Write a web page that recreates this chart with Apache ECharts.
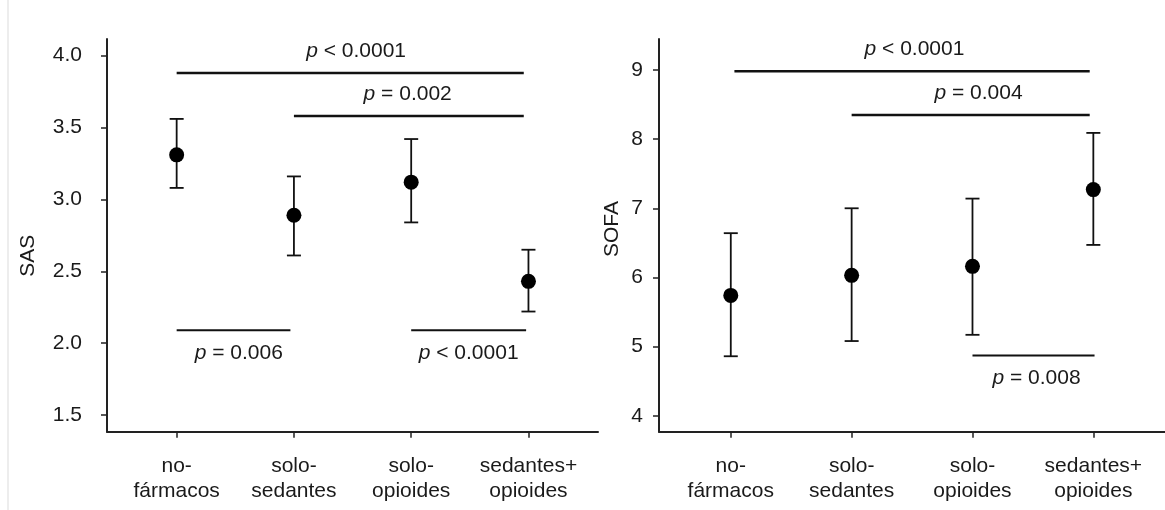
<!DOCTYPE html>
<html>
<head>
<meta charset="utf-8">
<script src="https://cdn.jsdelivr.net/npm/echarts@6/dist/echarts.min.js"></script>
<style>
html,body{margin:0;padding:0;background:#fff;}
#chart{width:1165px;height:510px;}
</style>
</head>
<body>
<div id="chart"></div>
<script>
// ---- data ----
const categories = ['no-\nfármacos', 'solo-\nsedantes', 'solo-\nopioides', 'sedantes+\nopioides'];
const categoryIndex = [0, 1, 2, 3];

const sasMean = [3.31, 2.89, 3.12, 2.43];
const sasLow  = [3.08, 2.61, 2.84, 2.22];
const sasHigh = [3.56, 3.16, 3.42, 2.65];
const sasTicks = [1.5, 2.0, 2.5, 3.0, 3.5, 4.0];

const sofaMean = [5.74, 6.03, 6.16, 7.27];
const sofaLow  = [4.86, 5.08, 5.17, 6.47];
const sofaHigh = [6.64, 7.00, 7.14, 8.09];
const sofaTicks = [4, 5, 6, 7, 8, 9];

// comparisons: [from, to, level, labelAt, side, label]
const sasComparisons = [
  [0.00, 2.96, 3.88, 1.53, 'above', 'p < 0.0001'],
  [1.00, 2.96, 3.58, 1.97, 'above', 'p = 0.002'],
  [0.00, 0.97, 2.09, 0.53, 'below', 'p = 0.006'],
  [2.00, 2.98, 2.09, 2.49, 'below', 'p < 0.0001']
];
const sofaComparisons = [
  [0.03, 2.97, 8.98, 1.52, 'above', 'p < 0.0001'],
  [1.00, 2.97, 8.35, 2.05, 'above', 'p = 0.004'],
  [2.00, 3.01, 4.87, 2.53, 'below', 'p = 0.008']
];

// ---- styles ----
const FONT = 'Liberation Sans, Arial, sans-serif';
const TXT = '#1a1a1a';
const INK = '#111';
const AX = '#222';

function xAxisCfg(gridIndex) {
  return {
    type: 'value', gridIndex: gridIndex, min: -0.594, max: 3.593,
    axisLine: { show: true, onZero: false, lineStyle: { color: AX, width: 2 } },
    axisTick: { show: true, customValues: categoryIndex, length: 6, lineStyle: { color: AX, width: 1.5 } },
    axisLabel: {
      customValues: categoryIndex, margin: 22,
      formatter: v => categories[Math.round(v)] || '',
      fontFamily: FONT, fontSize: 21, lineHeight: 25, color: TXT
    },
    splitLine: { show: false }
  };
}
function yAxisCfg(gridIndex, min, max, ticks, margin, digits) {
  return {
    type: 'value', gridIndex: gridIndex, min: min, max: max,
    axisLine: { show: true, onZero: false, lineStyle: { color: AX, width: 2 } },
    axisTick: { show: true, customValues: ticks, length: 6, lineStyle: { color: AX, width: 1.5 } },
    axisLabel: {
      customValues: ticks, margin: margin,
      formatter: v => Number(v).toFixed(digits),
      fontFamily: FONT, fontSize: 21, color: TXT
    },
    splitLine: { show: false }
  };
}

function errorSeries(idx, low, high) {
  return {
    type: 'custom', xAxisIndex: idx, yAxisIndex: idx, z: 3,
    data: categoryIndex.map((c, i) => [c, low[i], high[i]]),
    encode: { x: 0, y: [1, 2] },
    renderItem: function (params, api) {
      const x = api.value(0);
      const lo = api.coord([x, api.value(1)]);
      const hi = api.coord([x, api.value(2)]);
      const hw = 7;
      const st = { stroke: INK, lineWidth: 1.8 };
      return {
        type: 'group',
        children: [
          { type: 'line', shape: { x1: lo[0], y1: lo[1], x2: hi[0], y2: hi[1] }, style: st },
          { type: 'line', shape: { x1: lo[0] - hw, y1: lo[1], x2: lo[0] + hw, y2: lo[1] }, style: st },
          { type: 'line', shape: { x1: hi[0] - hw, y1: hi[1], x2: hi[0] + hw, y2: hi[1] }, style: st }
        ]
      };
    }
  };
}
function meanSeries(idx, mean) {
  return {
    type: 'scatter', xAxisIndex: idx, yAxisIndex: idx, z: 4,
    symbol: 'circle', symbolSize: 15,
    itemStyle: { color: '#000', opacity: 1 },
    emphasis: { disabled: true },
    data: categoryIndex.map((c, i) => [c, mean[i]])
  };
}
function compSeries(idx, comps) {
  return {
    type: 'custom', xAxisIndex: idx, yAxisIndex: idx, z: 2, clip: false,
    data: comps.map(c => [c[0], c[1], c[2], c[3]]),
    encode: { x: [0, 1, 3], y: 2 },
    renderItem: function (params, api) {
      const c = comps[params.dataIndex];
      const a = api.coord([c[0], c[2]]);
      const b = api.coord([c[1], c[2]]);
      const l = api.coord([c[3], c[2]]);
      const above = c[4] === 'above';
      const lw = above ? 2.5 : 2;
      const ty = above ? a[1] - 22 : a[1] + 23;
      return {
        type: 'group',
        children: [
          { type: 'line', shape: { x1: a[0], y1: a[1], x2: b[0], y2: b[1] },
            style: { stroke: INK, lineWidth: lw } },
          { type: 'text', x: l[0], y: ty,
            style: {
              text: '{i|p}' + c[5].slice(1),
              align: 'center', verticalAlign: 'middle',
              fontFamily: FONT, fontSize: 21, fill: TXT,
              rich: { i: { fontStyle: 'italic', fontFamily: FONT, fontSize: 21, fill: TXT } }
            } }
        ]
      };
    }
  };
}

const chart = echarts.init(document.getElementById('chart'), null, { renderer: 'canvas' });
chart.setOption({
  backgroundColor: '#fff',
  animation: false,
  grid: [
    { left: 107, right: 567, top: 39, bottom: 78.3 },
    { left: 659, right: 0, top: 39, bottom: 78.3 }
  ],
  xAxis: [xAxisCfg(0), xAxisCfg(1)],
  yAxis: [
    yAxisCfg(0, 1.384, 4.116, sasTicks, 25, 1),
    yAxisCfg(1, 3.769, 9.448, sofaTicks, 16, 0)
  ],
  graphic: [
    { type: 'rect', shape: { x: 7.5, y: 0, width: 1, height: 510 }, style: { fill: '#dcdcdc' }, silent: true },
    { type: 'text', x: 28, y: 255.7, rotation: Math.PI / 2,
      style: { text: 'SAS', align: 'center', verticalAlign: 'middle', fontFamily: FONT, fontSize: 21, fill: TXT } },
    { type: 'text', x: 612, y: 229, rotation: Math.PI / 2,
      style: { text: 'SOFA', align: 'center', verticalAlign: 'middle', fontFamily: FONT, fontSize: 21, fill: TXT } }
  ],
  series: [
    compSeries(0, sasComparisons),
    errorSeries(0, sasLow, sasHigh),
    meanSeries(0, sasMean),
    compSeries(1, sofaComparisons),
    errorSeries(1, sofaLow, sofaHigh),
    meanSeries(1, sofaMean)
  ]
});
</script>
</body>
</html>
